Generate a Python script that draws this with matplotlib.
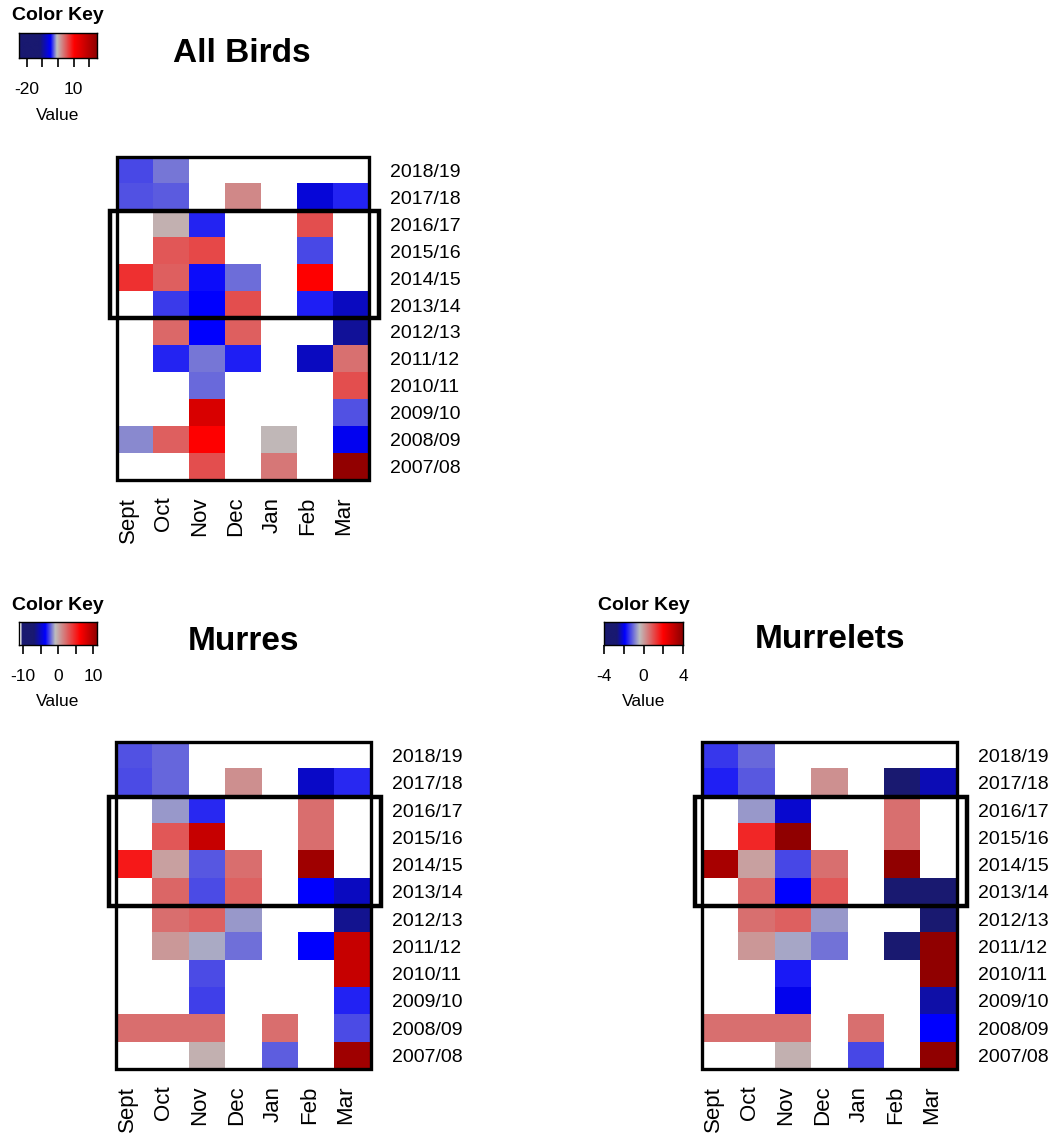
import numpy as np
import matplotlib
matplotlib.use("Agg")
import matplotlib.pyplot as plt
from matplotlib.colors import LinearSegmentedColormap, Normalize
from matplotlib.patches import Rectangle
from matplotlib.transforms import ScaledTranslation

plt.rcParams['font.family'] = ['Liberation Sans', 'DejaVu Sans']

W, H = 1054, 1141
nan = np.nan

months = ['Sept', 'Oct', 'Nov', 'Dec', 'Jan', 'Feb', 'Mar']
seasons = ['2018/19', '2017/18', '2016/17', '2015/16', '2014/15', '2013/14',
           '2012/13', '2011/12', '2010/11', '2009/10', '2008/09', '2007/08']

# rows: seasons top to bottom, columns: months
all_birds = [
    [-3.5, -2.5, nan, nan, nan, nan, nan],
    [-3.3, -3.1, nan, 2.1, nan, -6.9, -4.2],
    [nan, -0.2, -4.2, nan, nan, 5.4, nan],
    [nan, 4.9, 5.8, nan, nan, -3.5, nan],
    [7.2, 4.4, -4.7, -2.7, nan, 10.0, nan],
    [nan, -3.8, -5.0, 5.4, nan, -4.3, -8.1],
    [nan, 4.0, -5.0, 4.4, nan, nan, -10.0],
    [nan, -4.2, -2.5, -4.3, nan, -8.1, 3.5],
    [nan, nan, -2.8, nan, nan, nan, 5.4],
    [nan, nan, 15.0, nan, nan, nan, -3.3],
    [-2.1, 4.4, 10.0, nan, -0.6, nan, -5.7],
    [nan, nan, 5.4, nan, 3.1, nan, 24.0],
]

murres = [
    [-2.6, -2.3, nan, nan, nan, nan, nan],
    [-2.7, -2.3, nan, 0.7, nan, -5.0, -3.2],
    [nan, -1.56, -3.2, nan, nan, 1.9, nan],
    [nan, 2.8, 8.4, nan, nan, 1.9, nan],
    [5.1, 0.1, -2.5, 1.9, nan, 10.1, nan],
    [nan, 2.2, -2.7, 2.4, nan, -3.8, -5.2],
    [nan, 1.9, 2.4, -1.56, nan, nan, -6.3],
    [nan, 0.4, -1.3, -2.15, nan, -3.8, 8.4],
    [nan, nan, -2.7, nan, nan, nan, 8.4],
    [nan, nan, -2.85, nan, nan, nan, -3.3],
    [1.9, 1.9, 1.9, nan, 1.9, nan, -2.7],
    [nan, nan, -0.5, nan, -2.4, nan, 10.1],
]

murrelets = [
    [-1.46, -1.07, nan, nan, nan, nan, nan],
    [-1.65, -1.2, nan, 0.18, nan, -3.2, -2.3],
    [nan, -0.7, -2.16, nan, nan, 0.58, nan],
    [nan, 1.5, 3.9, nan, nan, 0.58, nan],
    [3.5, -0.02, -1.33, 0.58, nan, 3.9, nan],
    [nan, 0.68, -1.9, 0.9, nan, -3.2, -3.3],
    [nan, 0.58, 0.78, -0.7, nan, nan, -3.2],
    [nan, 0.08, -0.58, -1.0, nan, -3.2, 3.9],
    [nan, nan, -1.7, nan, nan, nan, 3.9],
    [nan, nan, -2.0, nan, nan, nan, -2.39],
    [0.58, 0.58, 0.58, nan, 0.58, nan, -1.9],
    [nan, nan, -0.23, nan, -1.33, nan, 3.9],
]

# colour key stops (value, colour)
all_birds_key = [(-25, 'midnightblue'), (-12, 'midnightblue'), (-5, 'blue'),
                 (-1, '#BEBEBE'), (10, 'red'), (25, 'darkred')]
murres_key = [(-11.2, 'white'), (-10.6, 'white'), (-10.5, 'midnightblue'),
              (-7, 'midnightblue'), (-3.8, 'blue'), (-1, '#BEBEBE'),
              (6, 'red'), (11, 'darkred')]
murrelets_key = [(-4, 'midnightblue'), (-2.7, 'midnightblue'), (-1.9, 'blue'),
                 (-0.4, '#BEBEBE'), (2, 'red'), (4, 'darkred')]

fig = plt.figure(figsize=(W / 100, H / 100), dpi=100)


def px_box(left, top, right, bottom):
    return [left / W, 1 - bottom / H, (right - left) / W, (bottom - top) / H]


def make_cmap(nodes):
    vmin, vmax = nodes[0][0], nodes[-1][0]
    stops = [((v - vmin) / (vmax - vmin), c) for v, c in nodes]
    cmap = LinearSegmentedColormap.from_list('key', stops, N=512)
    return cmap.with_extremes(bad='white'), Normalize(vmin, vmax)


def draw_panel(values, nodes, ticks, ticklabels, title, heat, key, title_xy):
    cmap, norm = make_cmap(nodes)
    data = np.ma.masked_invalid(np.array(values, dtype=float))

    ax = fig.add_axes(px_box(*heat))
    ax.imshow(data, cmap=cmap, norm=norm, aspect='auto', interpolation='nearest')
    for s in ax.spines.values():
        s.set_visible(False)
    ax.yaxis.tick_right()
    ax.set_yticks(range(len(seasons)))
    ax.set_yticklabels(seasons, fontsize=14)
    ax.set_xticks(range(len(months)))
    ax.set_xticklabels(months, fontsize=16, rotation=90, va='top')
    ax.tick_params(length=0)
    ax.tick_params(axis='y', pad=15)
    ax.tick_params(axis='x', pad=12)
    shift = ScaledTranslation(-7 / 100, 0, fig.dpi_scale_trans)
    for lab in ax.get_xticklabels():
        lab.set_transform(lab.get_transform() + shift)

    ax.add_patch(Rectangle((-0.5, -0.5), 7, 12, fill=False, lw=2.4,
                           ec='black', clip_on=False))
    ax.add_patch(Rectangle((-0.7, 1.5), 7.48, 4, fill=False, lw=3.2,
                           ec='black', clip_on=False))

    kx = fig.add_axes(px_box(*key))
    vmin, vmax = nodes[0][0], nodes[-1][0]
    grad = np.linspace(vmin, vmax, 400)[None, :]
    kx.imshow(grad, cmap=cmap, norm=norm, aspect='auto',
              extent=(vmin, vmax, 0, 1))
    kx.set_xlim(vmin, vmax)
    kx.set_yticks([])
    kx.set_xticks(ticks)
    kx.set_xticklabels(ticklabels, fontsize=12.5)
    kx.tick_params(axis='x', length=6.5, width=1.2, pad=11)
    for s in kx.spines.values():
        s.set_linewidth(1.0)

    cx = (key[0] + key[2]) / 2
    fig.text(cx / W, 1 - (key[1] - 17) / H, 'Color Key', fontsize=14,
             fontweight='bold', ha='center', va='center')
    fig.text(cx / W, 1 - (key[3] + 57) / H, 'Value', fontsize=12.5,
             ha='center', va='center')
    fig.text(title_xy[0] / W, 1 - title_xy[1] / H, title, fontsize=24,
             fontweight='bold', ha='center', va='center')


draw_panel(all_birds, all_birds_key, [-20, -10, 0, 10, 20],
           ['-20', '', '', '10', ''], 'All Birds',
           (117, 157, 369, 480), (19, 33, 97, 58), (242, 53))
draw_panel(murres, murres_key, [-10, -5, 0, 5, 10],
           ['-10', '', '0', '', '10'], 'Murres',
           (116, 742, 371, 1069), (19, 622, 97, 645), (243, 642))
draw_panel(murrelets, murrelets_key, [-4, -2, 0, 2, 4],
           ['-4', '', '0', '', '4'], 'Murrelets',
           (702, 742, 957, 1069), (604, 622, 683, 645), (830, 640))

fig.savefig('out.png', dpi=100)
